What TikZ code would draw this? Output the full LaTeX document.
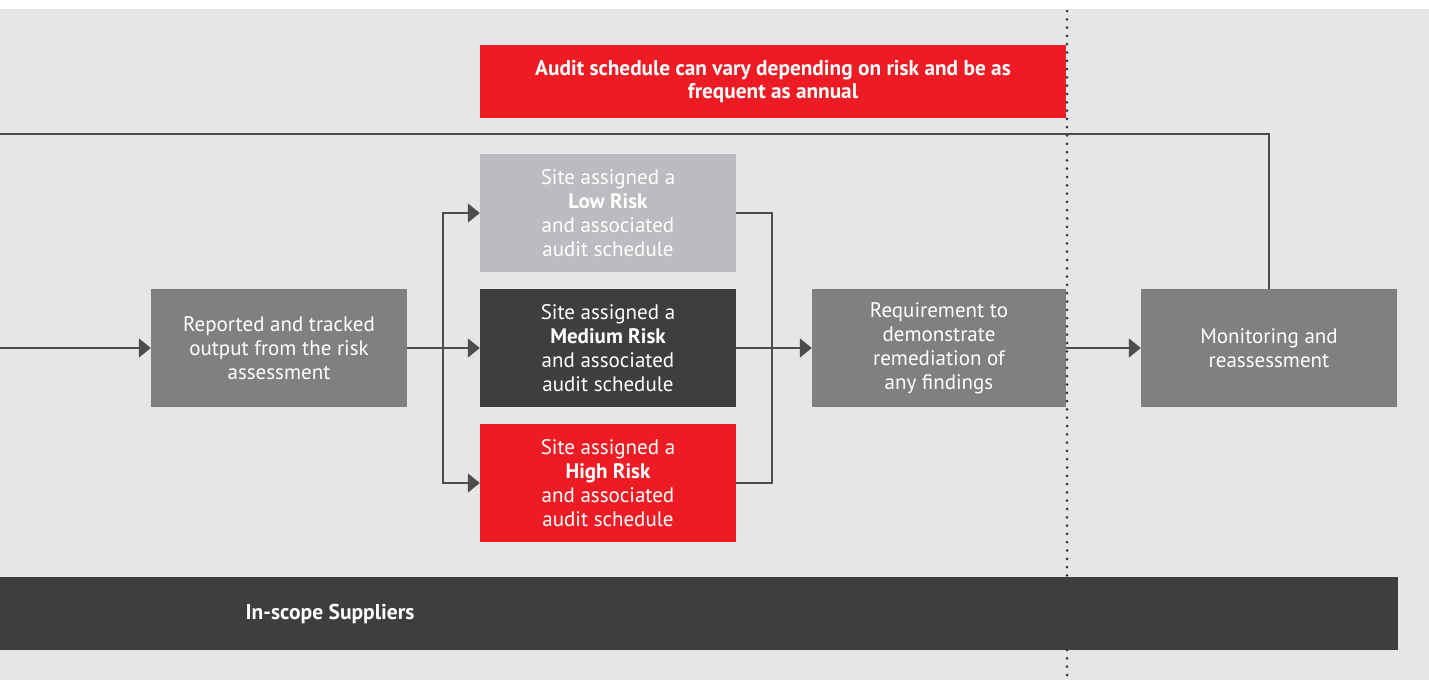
\documentclass[tikz,border=0pt]{standalone}
\usepackage{fontspec}
\setmainfont{PT Sans}
\usetikzlibrary{arrows.meta}
\definecolor{bg}{HTML}{E5E6E8}
\definecolor{boxgray}{HTML}{808083}
\definecolor{lowgray}{HTML}{BBBCBF}
\definecolor{darkbox}{HTML}{3E3E3E}
\definecolor{redbox}{HTML}{ED1C24}
\definecolor{linec}{HTML}{4D4D4F}
\definecolor{dotc}{HTML}{3A3A3C}
\tikzset{
  box/.style={rectangle, minimum width=256pt, minimum height=118pt, inner sep=0pt, text=white, align=center, font=\fontsize{21}{24}\selectfont},
  conn/.style={draw=linec, line width=1.8pt},
  arr/.style={conn, -{Triangle[width=19pt,length=12pt]}},
}
\begin{document}
\begin{tikzpicture}[x=1pt,y=-1pt]
\useasboundingbox (0,0) rectangle (1429,680);
\fill[white] (0,0) rectangle (1429,680);
\fill[bg] (0,9) rectangle (1429,680);
% top red banner
\node[box, fill=redbox, minimum width=586pt, minimum height=73pt, font=\fontsize{21.3}{23}\selectfont\bfseries] (banner) at (773,81.5) {Audit schedule can vary depending on risk and be as\\frequent as annual};
% boxes
\node[box, fill=boxgray] (rep) at (279,348) {Reported and tracked\\output from the risk\\assessment};
\node[box, fill=lowgray] (low) at (608,213) {Site assigned a\\\textbf{Low Risk}\\and associated\\audit schedule};
\node[box, fill=darkbox] (med) at (608,348) {Site assigned a\\\textbf{Medium Risk}\\and associated\\audit schedule};
\node[box, fill=redbox] (high) at (608,483) {Site assigned a\\\textbf{High Risk}\\and associated\\audit schedule};
\node[box, fill=boxgray, minimum width=254pt] (req) at (939,348) {Requirement to\\demonstrate\\remediation of\\any findings};
\node[box, fill=boxgray] (mon) at (1269,348) {Monitoring and\\reassessment};
% bottom bar
\node[rectangle, fill=darkbox, minimum width=1398pt, minimum height=73pt, inner sep=0pt] (bar) at (699,613.5) {};
\node[text=white, font=\fontsize{21.5}{23}\selectfont\bfseries, inner sep=0pt] (bartext) at (330,613.5) {In-scope Suppliers};
% dotted divider
\draw[dotc, line width=3pt, line cap=round, dash pattern=on 0pt off 8.3pt] (1067,11) -- (1067,680);
% connectors
\coordinate (inleft) at (0,348);
\coordinate (br) at (443,348);
\coordinate (mg) at (772,348);
\coordinate (tl) at (0,134);
\draw[arr] (inleft) -- (rep.west);
\draw[arr] (rep.east) -- (med.west);
\draw[arr] (br) |- (low.west);
\draw[arr] (br) |- (high.west);
\draw[conn] (low.east) -| (mg);
\draw[conn] (high.east) -| (mg);
\draw[arr] (med.east) -- (req.west);
\draw[arr] (req.east) -- (mon.west);
\draw[conn] (mon.north) |- (tl);
\end{tikzpicture}
\end{document}
